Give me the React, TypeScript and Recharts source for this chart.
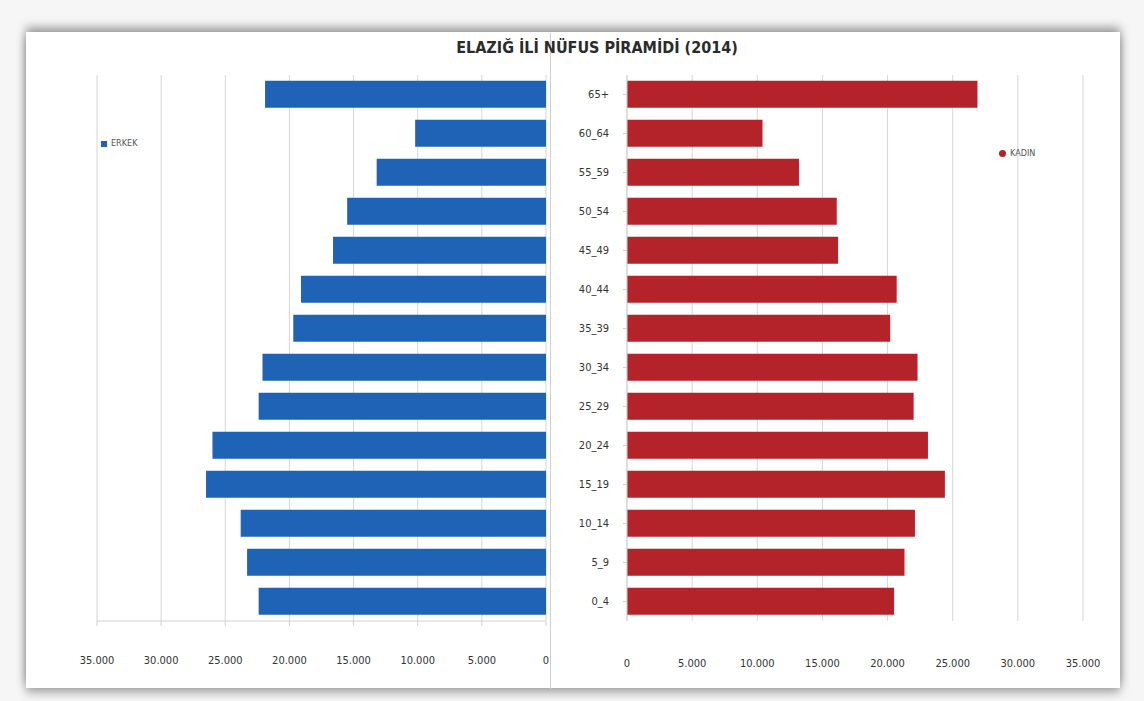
import React from 'react'
import {
  BarChart, Bar, XAxis, YAxis, CartesianGrid, Legend,
} from 'recharts'

const ageGroups = [
  '65+', '60_64', '55_59', '50_54', '45_49', '40_44', '35_39',
  '30_34', '25_29', '20_24', '15_19', '10_14', '5_9', '0_4',
]
const maleValues = [
  21900, 10200, 13200, 15500, 16600, 19100, 19700,
  22100, 22400, 26000, 26500, 23800, 23300, 22400,
]
const femaleValues = [
  26900, 10400, 13200, 16100, 16200, 20700, 20200,
  22300, 22000, 23100, 24400, 22100, 21300, 20500,
]
const axisTicks = [0, 5000, 10000, 15000, 20000, 25000, 30000, 35000]

const BLUE = '#1f63b6'
const RED = '#b5232a'
const FONT = '"Liberation Sans Narrow", "DejaVu Sans Condensed", "Open Sans", sans-serif'

const rows = ageGroups.map((age, i) => ({
  age,
  erkek: maleValues[i],
  kadin: femaleValues[i],
}))

const fmt = (v: number) => String(v).replace(/\B(?=(\d{3})+(?!\d))/g, '.')

const tickStyle = { fontSize: 11, fill: '#333', fontFamily: FONT }

export default function App() {
  return (
    <div style={{ position: 'absolute', left: 0, top: 0, width: 1144, height: 701, background: '#f6f6f6', overflow: 'hidden' }}>
      {/* white frame */}
      <div
        style={{
          position: 'absolute', left: 26, top: 32, width: 1094, height: 656,
          background: '#fff',
          boxShadow: '0 -5px 9px rgba(0,0,0,0.35), 0 5px 9px rgba(0,0,0,0.3)',
        }}
      />

      {/* left chart */}
      <div style={{ position: 'absolute', left: 27, top: 35, width: 523, height: 655, overflow: 'hidden' }}>
        <BarChart
          width={523}
          height={655}
          data={rows}
          layout="vertical"
          barCategoryGap="15%"
          margin={{ top: 40, right: 4, bottom: 29, left: 70 }}
        >
          <CartesianGrid horizontal={false} stroke="#d6d6d6" />
          <XAxis
            type="number"
            domain={[0, 35000]}
            ticks={axisTicks}
            reversed
            tickFormatter={fmt}
            tick={tickStyle}
            tickSize={5}
            tickMargin={30}
            stroke="#d0d0d0"
            height={30}
          />
          <YAxis type="category" dataKey="age" hide />
          <Legend
            layout="vertical"
            iconType="square"
            iconSize={6}
            wrapperStyle={{ position: 'absolute', left: 74, top: 103, width: 80, fontSize: 9, fontFamily: FONT, color: '#555' }}
            formatter={(v) => <span style={{ color: '#555' }}>{v}</span>}
          />
          <Bar dataKey="erkek" name="ERKEK" fill={BLUE} isAnimationActive={false} />
        </BarChart>
      </div>

      {/* divider between the two charts */}
      <div style={{ position: 'absolute', left: 550, top: 33, width: 1, height: 656, background: '#cfcfcf' }} />

      {/* right chart */}
      <div style={{ position: 'absolute', left: 551, top: 35, width: 569, height: 655 }}>
        <BarChart
          width={569}
          height={655}
          data={rows}
          layout="vertical"
          barCategoryGap="15%"
          margin={{ top: 40, right: 37, bottom: 29, left: 0 }}
        >
          <CartesianGrid horizontal={false} stroke="#d6d6d6" />
          <XAxis
            type="number"
            domain={[0, 35000]}
            ticks={axisTicks}
            tickFormatter={fmt}
            tick={tickStyle}
            tickLine={false}
            axisLine={false}
            tickMargin={32}
            height={30}
          />
          <YAxis
            type="category"
            dataKey="age"
            width={76}
            tick={tickStyle}
            tickSize={4}
            tickMargin={14}
            stroke="#c9d6c9"
          />
          <Legend
            layout="vertical"
            iconType="circle"
            iconSize={7}
            wrapperStyle={{ position: 'absolute', left: 448, top: 113, width: 80, fontSize: 9, fontFamily: FONT, color: '#555' }}
            formatter={(v) => <span style={{ color: '#555' }}>{v}</span>}
          />
          <Bar dataKey="kadin" name="KADIN" fill={RED} isAnimationActive={false} />
        </BarChart>
      </div>

      <div
        style={{
          position: 'absolute', left: 0, width: 1194, top: 38, textAlign: 'center',
          fontFamily: '"Liberation Sans Narrow", "DejaVu Sans Condensed", sans-serif',
          fontWeight: 'bold', fontSize: 16, color: '#2b2b2b',
        }}
      >
        ELAZIĞ İLİ NÜFUS PİRAMİDİ (2014)
      </div>
    </div>
  )
}
